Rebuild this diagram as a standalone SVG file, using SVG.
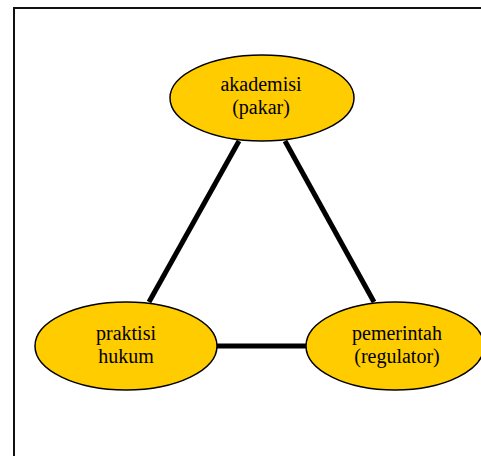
<svg xmlns="http://www.w3.org/2000/svg" width="481" height="456" viewBox="0 0 481 456">
<style>
.node ellipse{fill:#FFCC00;stroke:#000;stroke-width:1.5}
.node text{font-family:"Liberation Serif","Times New Roman",serif;font-size:20px;fill:#000;text-anchor:middle}
.edge{stroke:#000;stroke-width:5;fill:none}
</style>
<rect x="14" y="8" width="470" height="452" fill="#fff" stroke="#111" stroke-width="2"/>
<g id="connectors">
<line class="edge" x1="239" y1="141" x2="149" y2="302"/>
<line class="edge" x1="285" y1="141" x2="374" y2="302"/>
<line class="edge" x1="216" y1="346" x2="307" y2="346"/>
</g>
<g id="akademisi" class="node">
<ellipse cx="262" cy="98" rx="92" ry="43"/>
<text x="261" y="91">akademisi</text>
<text x="261" y="114">(pakar)</text>
</g>
<g id="praktisi" class="node">
<ellipse cx="126" cy="346" rx="91" ry="44"/>
<text x="126" y="340">praktisi</text>
<text x="126" y="363">hukum</text>
</g>
<g id="pemerintah" class="node">
<ellipse cx="395" cy="346" rx="89" ry="44"/>
<text x="397" y="340">pemerintah</text>
<text x="397" y="363">(regulator)</text>
</g>
</svg>
